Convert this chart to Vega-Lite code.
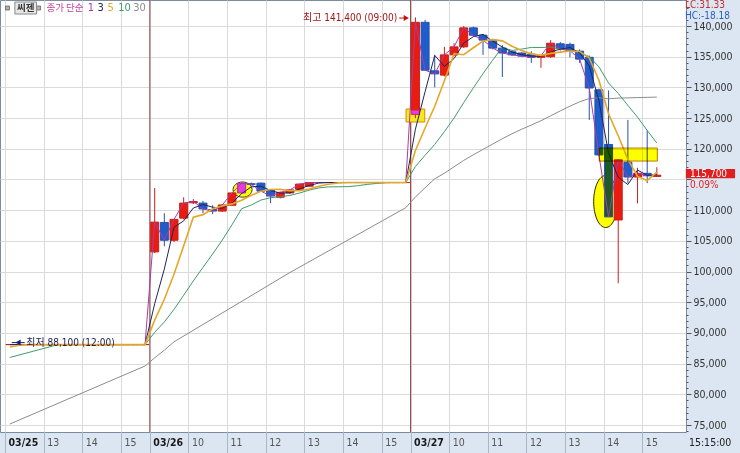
{
  "$schema": "https://vega.github.io/schema/vega-lite/v6.json",
  "width": 686,
  "height": 432,
  "autosize": {"type": "none"},
  "padding": {"left": 0, "top": 0, "right": 54, "bottom": 21},
  "background": "#dce6f2",
  "config": {
    "view": {"fill": "#ffffff", "stroke": "#7d8ba0", "strokeWidth": 1},
    "font": "Liberation Sans Narrow, DejaVu Sans Condensed, Noto Sans CJK KR, sans-serif"
  },
  "resolve": {"axis": {"x": "independent", "y": "independent"}},
  "datasets": {
    "candles": [
      {"s":-14.5,"o":88100,"h":88100,"l":88100,"c":88100,"t":"up"},
      {"s":-13.5,"o":88100,"h":88100,"l":88100,"c":88100,"t":"up"},
      {"s":-12.5,"o":88100,"h":88100,"l":88100,"c":88100,"t":"up"},
      {"s":-11.5,"o":88100,"h":88100,"l":88100,"c":88100,"t":"up"},
      {"s":-10.5,"o":88100,"h":88100,"l":88100,"c":88100,"t":"up"},
      {"s":-9.5,"o":88100,"h":88100,"l":88100,"c":88100,"t":"up"},
      {"s":-8.5,"o":88100,"h":88100,"l":88100,"c":88100,"t":"up"},
      {"s":-7.5,"o":88100,"h":88100,"l":88100,"c":88100,"t":"up"},
      {"s":-6.5,"o":88100,"h":88100,"l":88100,"c":88100,"t":"up"},
      {"s":-5.5,"o":88100,"h":88100,"l":88100,"c":88100,"t":"up"},
      {"s":-4.5,"o":88100,"h":88100,"l":88100,"c":88100,"t":"up"},
      {"s":-3.5,"o":88100,"h":88100,"l":88100,"c":88100,"t":"up"},
      {"s":-2.5,"o":88100,"h":88100,"l":88100,"c":88100,"t":"up"},
      {"s":-1.5,"o":88100,"h":88100,"l":88100,"c":88100,"t":"up"},
      {"s":-0.5,"o":88100,"h":88100,"l":88100,"c":88100,"t":"up"},
      {"s":0.5,"o":103200,"h":113600,"l":103000,"c":108050,"t":"up"},
      {"s":1.5,"o":108000,"h":109500,"l":104100,"c":105100,"t":"down"},
      {"s":2.5,"o":105100,"h":108500,"l":104800,"c":108500,"t":"up"},
      {"s":3.5,"o":108700,"h":112100,"l":108500,"c":111150,"t":"up"},
      {"s":4.5,"o":111200,"h":111800,"l":111000,"c":111400,"t":"up"},
      {"s":5.5,"o":111150,"h":111500,"l":109500,"c":110200,"t":"down"},
      {"s":6.5,"o":110100,"h":110800,"l":109350,"c":109850,"t":"down"},
      {"s":7.5,"o":109850,"h":110900,"l":109700,"c":110850,"t":"up"},
      {"s":8.5,"o":110800,"h":112800,"l":110700,"c":112800,"t":"up"},
      {"s":9.5,"o":112800,"h":114500,"l":112700,"c":114400,"t":"limit"},
      {"s":10.5,"o":114300,"h":114500,"l":114000,"c":114200,"t":"down"},
      {"s":11.5,"o":114400,"h":114500,"l":113000,"c":113100,"t":"down"},
      {"s":12.5,"o":113300,"h":113300,"l":111150,"c":112300,"t":"down"},
      {"s":13.5,"o":112100,"h":113000,"l":111900,"c":112900,"t":"up"},
      {"s":14.5,"o":112800,"h":113400,"l":112600,"c":113300,"t":"up"},
      {"s":15.5,"o":113400,"h":114300,"l":113200,"c":114250,"t":"up"},
      {"s":16.5,"o":113900,"h":114500,"l":113800,"c":114500,"t":"up"},
      {"s":17.5,"o":114500,"h":114500,"l":114500,"c":114500,"t":"up"},
      {"s":18.5,"o":114500,"h":114500,"l":114500,"c":114500,"t":"up"},
      {"s":19.5,"o":114500,"h":114500,"l":114500,"c":114500,"t":"up"},
      {"s":20.5,"o":114500,"h":114500,"l":114500,"c":114500,"t":"up"},
      {"s":21.5,"o":114500,"h":114500,"l":114500,"c":114500,"t":"up"},
      {"s":22.5,"o":114500,"h":114500,"l":114500,"c":114500,"t":"up"},
      {"s":23.5,"o":114500,"h":114500,"l":114500,"c":114500,"t":"up"},
      {"s":24.5,"o":114500,"h":114500,"l":114500,"c":114500,"t":"up"},
      {"s":25.5,"o":114500,"h":114500,"l":114500,"c":114500,"t":"up"},
      {"s":26.5,"o":114500,"h":114500,"l":114500,"c":114500,"t":"up"},
      {"s":27.5,"o":125600,"h":141400,"l":125000,"c":140600,"t":"up"},
      {"s":28.5,"o":140600,"h":141000,"l":132800,"c":132800,"t":"down"},
      {"s":29.5,"o":132700,"h":135300,"l":130000,"c":132200,"t":"down"},
      {"s":30.5,"o":132000,"h":136600,"l":131800,"c":135300,"t":"up"},
      {"s":31.5,"o":135300,"h":137200,"l":135100,"c":136600,"t":"up"},
      {"s":32.5,"o":136600,"h":140000,"l":136400,"c":139700,"t":"up"},
      {"s":33.5,"o":139700,"h":139900,"l":138300,"c":138500,"t":"down"},
      {"s":34.5,"o":138500,"h":138700,"l":135300,"c":137700,"t":"down"},
      {"s":35.5,"o":137700,"h":137900,"l":136200,"c":136400,"t":"down"},
      {"s":36.5,"o":136400,"h":136900,"l":131700,"c":135600,"t":"down"},
      {"s":37.5,"o":135800,"h":135900,"l":135100,"c":135300,"t":"down"},
      {"s":38.5,"o":135600,"h":135700,"l":135000,"c":135100,"t":"down"},
      {"s":39.5,"o":135400,"h":135900,"l":134000,"c":134900,"t":"down"},
      {"s":40.5,"o":134900,"h":135300,"l":133200,"c":135200,"t":"up"},
      {"s":41.5,"o":135000,"h":137700,"l":134800,"c":137200,"t":"up"},
      {"s":42.5,"o":137100,"h":137400,"l":136000,"c":136300,"t":"down"},
      {"s":43.5,"o":137000,"h":137300,"l":134900,"c":136000,"t":"down"},
      {"s":44.5,"o":135900,"h":136200,"l":134000,"c":134600,"t":"down"},
      {"s":45.5,"o":134900,"h":135200,"l":124700,"c":129900,"t":"down"},
      {"s":46.5,"o":129600,"h":129800,"l":118800,"c":119000,"t":"down"},
      {"s":47.5,"o":120700,"h":129500,"l":108900,"c":108900,"t":"hl"},
      {"s":48.5,"o":108400,"h":118300,"l":98100,"c":118200,"t":"up"},
      {"s":49.5,"o":117800,"h":124700,"l":114400,"c":115400,"t":"down"},
      {"s":50.5,"o":115400,"h":116900,"l":111100,"c":116000,"t":"up"},
      {"s":51.5,"o":116000,"h":123000,"l":114400,"c":115600,"t":"down"},
      {"s":52.5,"o":115500,"h":117000,"l":115400,"c":115700,"t":"up"}
    ],
    "ma3": [
      {"s":-14.5,"v":88100},{"s":-0.5,"v":88100},
      {"s":0.5,"v":94750},{"s":1.5,"v":100417},{"s":2.5,"v":107217},{"s":3.5,"v":108250},{"s":4.5,"v":110350},{"s":5.5,"v":110917},{"s":6.5,"v":110483},{"s":7.5,"v":110300},{"s":8.5,"v":111167},{"s":9.5,"v":112683},{"s":10.5,"v":113800},{"s":11.5,"v":113900},{"s":12.5,"v":113200},{"s":13.5,"v":112767},{"s":14.5,"v":112833},{"s":15.5,"v":113483},{"s":16.5,"v":114017},{"s":17.5,"v":114417},{"s":18.5,"v":114500},{"s":26.5,"v":114500},
      {"s":27.5,"v":123200},{"s":28.5,"v":129300},{"s":29.5,"v":135200},{"s":30.5,"v":133433},{"s":31.5,"v":134700},{"s":32.5,"v":137200},{"s":33.5,"v":138267},{"s":34.5,"v":138633},{"s":35.5,"v":137533},{"s":36.5,"v":136567},{"s":37.5,"v":135767},{"s":38.5,"v":135333},{"s":39.5,"v":135100},{"s":40.5,"v":135067},{"s":41.5,"v":135767},{"s":42.5,"v":136233},{"s":43.5,"v":136500},{"s":44.5,"v":135633},{"s":45.5,"v":133500},{"s":46.5,"v":127833},{"s":47.5,"v":119267},{"s":48.5,"v":115367},{"s":49.5,"v":114167},{"s":50.5,"v":116533},{"s":51.5,"v":115667},{"s":52.5,"v":115767}
    ],
    "ma5": [
      {"s":-14.5,"v":87700},{"s":-13.5,"v":88000},{"s":-12.5,"v":88100},{"s":-0.5,"v":88100},
      {"s":0.5,"v":92090},{"s":1.5,"v":95490},{"s":2.5,"v":99570},{"s":3.5,"v":104180},{"s":4.5,"v":108840},{"s":5.5,"v":109270},{"s":6.5,"v":110220},{"s":7.5,"v":110690},{"s":8.5,"v":111020},{"s":9.5,"v":111620},{"s":10.5,"v":112420},{"s":11.5,"v":113070},{"s":12.5,"v":113360},{"s":13.5,"v":113380},{"s":14.5,"v":113160},{"s":15.5,"v":113170},{"s":16.5,"v":113450},{"s":17.5,"v":113890},{"s":18.5,"v":114210},{"s":19.5,"v":114450},{"s":20.5,"v":114500},{"s":26.5,"v":114500},
      {"s":27.5,"v":119720},{"s":28.5,"v":123380},{"s":29.5,"v":126920},{"s":30.5,"v":131080},{"s":31.5,"v":135500},{"s":32.5,"v":135320},{"s":33.5,"v":136460},{"s":34.5,"v":137560},{"s":35.5,"v":137780},{"s":36.5,"v":137580},{"s":37.5,"v":136700},{"s":38.5,"v":136020},{"s":39.5,"v":135460},{"s":40.5,"v":135220},{"s":41.5,"v":135540},{"s":42.5,"v":135740},{"s":43.5,"v":135920},{"s":44.5,"v":135860},{"s":45.5,"v":134800},{"s":46.5,"v":131160},{"s":47.5,"v":125680},{"s":48.5,"v":122120},{"s":49.5,"v":118280},{"s":50.5,"v":115500},{"s":51.5,"v":114820},{"s":52.5,"v":116180}
    ],
    "ma10": [
      {"s":-14.5,"v":86000},{"s":-9.5,"v":88100},{"s":-0.5,"v":88100},
      {"s":0.5,"v":90095},{"s":1.5,"v":91795},{"s":2.5,"v":93835},{"s":3.5,"v":96140},{"s":4.5,"v":98470},{"s":5.5,"v":100680},{"s":6.5,"v":102855},{"s":7.5,"v":105130},{"s":8.5,"v":107600},{"s":9.5,"v":110230},{"s":10.5,"v":110845},{"s":11.5,"v":111645},{"s":12.5,"v":112025},{"s":13.5,"v":112200},{"s":14.5,"v":112390},{"s":15.5,"v":112795},{"s":16.5,"v":113260},{"s":17.5,"v":113625},{"s":18.5,"v":113795},{"s":19.5,"v":113805},{"s":20.5,"v":113835},{"s":21.5,"v":113975},{"s":22.5,"v":114195},{"s":23.5,"v":114355},{"s":24.5,"v":114475},{"s":25.5,"v":114500},{"s":26.5,"v":114500},
      {"s":27.5,"v":117110},{"s":28.5,"v":118940},{"s":29.5,"v":120710},{"s":30.5,"v":122790},{"s":31.5,"v":125000},{"s":32.5,"v":127520},{"s":33.5,"v":129920},{"s":34.5,"v":132240},{"s":35.5,"v":134430},{"s":36.5,"v":136540},{"s":37.5,"v":136010},{"s":38.5,"v":136240},{"s":39.5,"v":136510},{"s":40.5,"v":136500},{"s":41.5,"v":136560},{"s":42.5,"v":136220},{"s":43.5,"v":135970},{"s":44.5,"v":135660},{"s":45.5,"v":135010},{"s":46.5,"v":133350},{"s":47.5,"v":130710},{"s":48.5,"v":129020},{"s":49.5,"v":127070},{"s":50.5,"v":125150},{"s":51.5,"v":122990},{"s":52.5,"v":120930}
    ],
    "ma30": [
      {"s":-14.5,"v":75160},{"s":-0.5,"v":84610},{"s":0.5,"v":85950},{"s":1.5,"v":87190},{"s":2.5,"v":88550},{"s":14.5,"v":99840},{"s":26.5,"v":110400},
      {"s":27.5,"v":112150},{"s":28.5,"v":113640},{"s":29.5,"v":115110},{"s":30.5,"v":116018},{"s":31.5,"v":117068},{"s":32.5,"v":118108},{"s":33.5,"v":119020},{"s":34.5,"v":119897},{"s":35.5,"v":120770},{"s":36.5,"v":121628},{"s":37.5,"v":122443},{"s":38.5,"v":123186},{"s":39.5,"v":123869},{"s":40.5,"v":124569},{"s":41.5,"v":125372},{"s":42.5,"v":126172},{"s":43.5,"v":126942},{"s":44.5,"v":127652},{"s":45.5,"v":128174},{"s":46.5,"v":128324},{"s":47.5,"v":128137},{"s":48.5,"v":128260},{"s":49.5,"v":128290},{"s":50.5,"v":128340},{"s":51.5,"v":128377},{"s":52.5,"v":128417}
    ]
  },
  "layer": [
    {
      "data": {"name": "candles"},
      "mark": {"type": "rule", "opacity": 0},
      "encoding": {
        "x": {
          "field": "s", "type": "quantitative",
          "scale": {"domain": [-15, 55], "nice": false, "zero": false},
          "axis": {
            "title": null,
            "values": [-15, -11, -7, -3, 0, 4, 8, 12, 16, 20, 24, 27, 31, 35, 39, 43, 47, 51],
            "labelExpr": "datum.value==-15?'03/25':datum.value==0?'03/26':datum.value==27?'03/27':datum.value<0?(9+(datum.value+27)/4)+'':datum.value<27?(9+datum.value/4)+'':(9+(datum.value-27)/4)+''",
            "grid": true, "gridColor": "#dadada", "gridWidth": 1,
            "domain": false,
            "tickSize": 21, "tickColor": "#a9b6c8",
            "labelAlign": "left", "labelOffset": 3, "labelPadding": -16, "labelBaseline": "top",
            "labelFontSize": 10.5,
            "labelFontWeight": {"condition": {"test": "datum.value==-15||datum.value==0||datum.value==27", "value": "bold"}, "value": "normal"},
            "labelColor": {"condition": {"test": "datum.value==-15||datum.value==0||datum.value==27", "value": "#1a1a1a"}, "value": "#555555"},
            "labelFlush": false, "labelOverlap": false, "labelBound": false
          }
        },
        "y": {
          "field": "l", "type": "quantitative",
          "scale": {"domain": [73860, 144236], "nice": false, "zero": false},
          "axis": {
            "title": null, "orient": "right",
            "values": [74000,75000,76000,77000,78000,79000,80000,81000,82000,83000,84000,85000,86000,87000,88000,89000,90000,91000,92000,93000,94000,95000,96000,97000,98000,99000,100000,101000,102000,103000,104000,105000,106000,107000,108000,109000,110000,111000,112000,113000,114000,115000,116000,117000,118000,119000,120000,121000,122000,123000,124000,125000,126000,127000,128000,129000,130000,131000,132000,133000,134000,135000,136000,137000,138000,139000,140000,141000,142000,143000,144000],
            "labelExpr": "datum.value % 5000 == 0 && datum.value != 115000 ? format(datum.value, ',d') : ''",
            "grid": true, "gridColor": "#dadada",
            "gridOpacity": {"condition": {"test": "datum.value % 5000 == 0", "value": 1}, "value": 0},
            "tickSize": {"condition": {"test": "datum.value % 5000 == 0", "value": 5}, "value": 2},
            "domain": false,
            "tickColor": "#555555",
            "labelPadding": 2, "labelFontSize": 10.5, "labelColor": "#333333",
            "labelBaseline": "middle", "labelOverlap": false, "labelBound": false
          }
        },
        "y2": {"field": "h"}
      }
    },
    {
      "data": {"values": [{"s": 0}, {"s": 27}]},
      "mark": {"type": "rule", "color": "#8e3b3b", "strokeWidth": 1},
      "encoding": {"x": {"field": "s", "type": "quantitative", "scale": {"domain": [-15, 55], "nice": false, "zero": false}, "axis": null}}
    },
    {
      "data": {"values": [{"s": 9.6, "p": 113350}]},
      "mark": {"type": "point", "shape": "M-1,0A1,0.8,0,1,0,1,0A1,0.8,0,1,0,-1,0Z", "size": 361, "filled": true, "fill": "#ffff00", "stroke": "#3c3c14", "strokeWidth": 1, "opacity": 1},
      "encoding": {
        "x": {"field": "s", "type": "quantitative", "scale": {"domain": [-15, 55], "nice": false, "zero": false}, "axis": null},
        "y": {"field": "p", "type": "quantitative", "scale": {"domain": [73860, 144236], "nice": false, "zero": false}, "axis": null}
      }
    },
    {
      "data": {"values": [{"s": 47.2, "p": 111410}]},
      "mark": {"type": "point", "shape": "M-1,0A1,2.17,0,1,0,1,0A1,2.17,0,1,0,-1,0Z", "size": 576, "filled": true, "fill": "#ffff00", "stroke": "#2a2a00", "strokeWidth": 1, "opacity": 1},
      "encoding": {
        "x": {"field": "s", "type": "quantitative", "scale": {"domain": [-15, 55], "nice": false, "zero": false}, "axis": null},
        "y": {"field": "p", "type": "quantitative", "scale": {"domain": [73860, 144236], "nice": false, "zero": false}, "axis": null}
      }
    },
    {
      "data": {"values": [{"s1": 26.53, "s2": 28.47, "p1": 124360, "p2": 126480}]},
      "mark": {"type": "rect", "fill": "#f8e81c", "stroke": "#d08a10", "strokeWidth": 1},
      "encoding": {
        "x": {"field": "s1", "type": "quantitative", "scale": {"domain": [-15, 55], "nice": false, "zero": false}, "axis": null},
        "x2": {"field": "s2"},
        "y": {"field": "p1", "type": "quantitative", "scale": {"domain": [73860, 144236], "nice": false, "zero": false}, "axis": null},
        "y2": {"field": "p2"}
      }
    },
    {
      "data": {"name": "candles"},
      "mark": {"type": "rule", "strokeWidth": 1},
      "encoding": {
        "x": {"field": "s", "type": "quantitative", "scale": {"domain": [-15, 55], "nice": false, "zero": false}, "axis": null},
        "y": {"field": "l", "type": "quantitative", "scale": {"domain": [73860, 144236], "nice": false, "zero": false}, "axis": null},
        "y2": {"field": "h"},
        "stroke": {"field": "t", "type": "nominal", "scale": {"domain": ["up", "down", "limit", "hl"], "range": ["#c8201a", "#2a50a8", "#b030b0", "#2a50a8"]}, "legend": null}
      }
    },
    {
      "data": {"name": "candles"},
      "mark": {"type": "bar", "size": 8, "strokeWidth": 1},
      "encoding": {
        "x": {"field": "s", "type": "quantitative", "scale": {"domain": [-15, 55], "nice": false, "zero": false}, "axis": null},
        "y": {"field": "o", "type": "quantitative", "scale": {"domain": [73860, 144236], "nice": false, "zero": false}, "axis": null},
        "y2": {"field": "c"},
        "fill": {"field": "t", "type": "nominal", "scale": {"domain": ["up", "down", "limit", "hl"], "range": ["#ea1c10", "#1f5ccc", "#e23ce2", "#1d5a26"]}, "legend": null},
        "stroke": {"field": "t", "type": "nominal", "legend": null}
      }
    },
    {
      "data": {"values": [{"s": 47.5, "p1": 120000, "p2": 120700}]},
      "mark": {"type": "bar", "size": 8, "color": "#1f5ccc"},
      "encoding": {
        "x": {"field": "s", "type": "quantitative", "scale": {"domain": [-15, 55], "nice": false, "zero": false}, "axis": null},
        "y": {"field": "p1", "type": "quantitative", "scale": {"domain": [73860, 144236], "nice": false, "zero": false}, "axis": null},
        "y2": {"field": "p2"}
      }
    },
    {
      "data": {"values": [{"s": 27.5, "p1": 125600, "p2": 126250}]},
      "mark": {"type": "bar", "size": 8, "color": "#e23ce2"},
      "encoding": {
        "x": {"field": "s", "type": "quantitative", "scale": {"domain": [-15, 55], "nice": false, "zero": false}, "axis": null},
        "y": {"field": "p1", "type": "quantitative", "scale": {"domain": [73860, 144236], "nice": false, "zero": false}, "axis": null},
        "y2": {"field": "p2"}
      }
    },
    {
      "data": {"name": "ma30"},
      "mark": {"type": "line", "strokeWidth": 1},
      "encoding": {
        "x": {"field": "s", "type": "quantitative", "scale": {"domain": [-15, 55], "nice": false, "zero": false}, "axis": null},
        "y": {"field": "v", "type": "quantitative", "scale": {"domain": [73860, 144236], "nice": false, "zero": false}, "axis": null},
        "color": {"datum": "MA30", "scale": {"domain": ["MA1", "MA3", "MA5", "MA10", "MA30"], "range": ["#a83ca8", "#23235c", "#e3a82a", "#3f9a6e", "#8c8c8c"]}, "legend": null}
      }
    },
    {
      "data": {"name": "ma10"},
      "mark": {"type": "line", "strokeWidth": 1},
      "encoding": {
        "x": {"field": "s", "type": "quantitative", "scale": {"domain": [-15, 55], "nice": false, "zero": false}, "axis": null},
        "y": {"field": "v", "type": "quantitative", "scale": {"domain": [73860, 144236], "nice": false, "zero": false}, "axis": null},
        "color": {"datum": "MA10", "legend": null}
      }
    },
    {
      "data": {"name": "candles"},
      "mark": {"type": "line", "strokeWidth": 1},
      "encoding": {
        "x": {"field": "s", "type": "quantitative", "scale": {"domain": [-15, 55], "nice": false, "zero": false}, "axis": null},
        "y": {"field": "c", "type": "quantitative", "scale": {"domain": [73860, 144236], "nice": false, "zero": false}, "axis": null},
        "color": {"datum": "MA1", "legend": null}
      }
    },
    {
      "data": {"name": "ma3"},
      "mark": {"type": "line", "strokeWidth": 1},
      "encoding": {
        "x": {"field": "s", "type": "quantitative", "scale": {"domain": [-15, 55], "nice": false, "zero": false}, "axis": null},
        "y": {"field": "v", "type": "quantitative", "scale": {"domain": [73860, 144236], "nice": false, "zero": false}, "axis": null},
        "color": {"datum": "MA3", "legend": null}
      }
    },
    {
      "data": {"name": "ma5"},
      "mark": {"type": "line", "strokeWidth": 1.6},
      "encoding": {
        "x": {"field": "s", "type": "quantitative", "scale": {"domain": [-15, 55], "nice": false, "zero": false}, "axis": null},
        "y": {"field": "v", "type": "quantitative", "scale": {"domain": [73860, 144236], "nice": false, "zero": false}, "axis": null},
        "color": {"datum": "MA5", "legend": null}
      }
    },
    {
      "data": {"values": [{"s1": 46.53, "s2": 52.55, "p1": 118000, "p2": 120120}]},
      "mark": {"type": "rect", "fill": "#ffff00", "stroke": "#c07800", "strokeWidth": 1, "blend": "multiply"},
      "encoding": {
        "x": {"field": "s1", "type": "quantitative", "scale": {"domain": [-15, 55], "nice": false, "zero": false}, "axis": null},
        "x2": {"field": "s2"},
        "y": {"field": "p1", "type": "quantitative", "scale": {"domain": [73860, 144236], "nice": false, "zero": false}, "axis": null},
        "y2": {"field": "p2"}
      }
    },
    {
      "data": {"values": [{"s1": 25.82, "s2": 26.6, "p": 141300}]},
      "mark": {"type": "rule", "color": "#c01010", "strokeWidth": 1},
      "encoding": {
        "x": {"field": "s1", "type": "quantitative", "scale": {"domain": [-15, 55], "nice": false, "zero": false}, "axis": null},
        "x2": {"field": "s2"},
        "y": {"field": "p", "type": "quantitative", "scale": {"domain": [73860, 144236], "nice": false, "zero": false}, "axis": null}
      }
    },
    {
      "data": {"values": [{"s": 26.55, "p": 141300}]},
      "mark": {"type": "point", "shape": "triangle-right", "size": 36, "filled": true, "color": "#c01010", "opacity": 1},
      "encoding": {
        "x": {"field": "s", "type": "quantitative", "scale": {"domain": [-15, 55], "nice": false, "zero": false}, "axis": null},
        "y": {"field": "p", "type": "quantitative", "scale": {"domain": [73860, 144236], "nice": false, "zero": false}, "axis": null}
      }
    },
    {
      "data": {"values": [{"s": 25.61, "p": 141300, "txt": "최고 141,400 (09:00)"}]},
      "mark": {"type": "text", "align": "right", "baseline": "middle", "fontSize": 10, "color": "#a01818"},
      "encoding": {
        "x": {"field": "s", "type": "quantitative", "scale": {"domain": [-15, 55], "nice": false, "zero": false}, "axis": null},
        "y": {"field": "p", "type": "quantitative", "scale": {"domain": [73860, 144236], "nice": false, "zero": false}, "axis": null},
        "text": {"field": "txt"}
      }
    },
    {
      "data": {"values": [{"s1": -14.3, "s2": -12.96, "p": 88420}]},
      "mark": {"type": "rule", "color": "#1c1c80", "strokeWidth": 1},
      "encoding": {
        "x": {"field": "s1", "type": "quantitative", "scale": {"domain": [-15, 55], "nice": false, "zero": false}, "axis": null},
        "x2": {"field": "s2"},
        "y": {"field": "p", "type": "quantitative", "scale": {"domain": [73860, 144236], "nice": false, "zero": false}, "axis": null}
      }
    },
    {
      "data": {"values": [{"s": -13.65, "p": 88420}]},
      "mark": {"type": "point", "shape": "triangle-left", "size": 36, "filled": true, "color": "#1c1c80", "opacity": 1},
      "encoding": {
        "x": {"field": "s", "type": "quantitative", "scale": {"domain": [-15, 55], "nice": false, "zero": false}, "axis": null},
        "y": {"field": "p", "type": "quantitative", "scale": {"domain": [73860, 144236], "nice": false, "zero": false}, "axis": null}
      }
    },
    {
      "data": {"values": [{"s": -12.8, "p": 88420, "txt": "최저 88,100 (12:00)"}]},
      "mark": {"type": "text", "align": "left", "baseline": "middle", "fontSize": 10, "color": "#1c1c50"},
      "encoding": {
        "x": {"field": "s", "type": "quantitative", "scale": {"domain": [-15, 55], "nice": false, "zero": false}, "axis": null},
        "y": {"field": "p", "type": "quantitative", "scale": {"domain": [73860, 144236], "nice": false, "zero": false}, "axis": null},
        "text": {"field": "txt"}
      }
    },
    {
      "data": {"values": [{"s": -14.74, "p": 142930}, {"s": -11.53, "p": 142930}]},
      "mark": {"type": "point", "shape": "square", "size": 16, "filled": true, "fill": "#b0b0b0", "stroke": "#666666", "strokeWidth": 0.8, "opacity": 1},
      "encoding": {
        "x": {"field": "s", "type": "quantitative", "scale": {"domain": [-15, 55], "nice": false, "zero": false}, "axis": null},
        "y": {"field": "p", "type": "quantitative", "scale": {"domain": [73860, 144236], "nice": false, "zero": false}, "axis": null}
      }
    },
    {
      "data": {"values": [{"s1": -13.98, "s2": -11.73, "p1": 141955, "p2": 143910}]},
      "mark": {"type": "rect", "fill": "#e6e6e6", "stroke": "#8a8a8a", "strokeWidth": 1},
      "encoding": {
        "x": {"field": "s1", "type": "quantitative", "scale": {"domain": [-15, 55], "nice": false, "zero": false}, "axis": null},
        "x2": {"field": "s2"},
        "y": {"field": "p1", "type": "quantitative", "scale": {"domain": [73860, 144236], "nice": false, "zero": false}, "axis": null},
        "y2": {"field": "p2"}
      }
    },
    {
      "data": {"values": [{"s": -12.86, "p": 142930, "txt": "씨젠"}]},
      "mark": {"type": "text", "align": "center", "baseline": "middle", "fontSize": 9.5, "fontWeight": "bold", "color": "#333333", "font": "Noto Sans CJK KR"},
      "encoding": {
        "x": {"field": "s", "type": "quantitative", "scale": {"domain": [-15, 55], "nice": false, "zero": false}, "axis": null},
        "y": {"field": "p", "type": "quantitative", "scale": {"domain": [73860, 144236], "nice": false, "zero": false}, "axis": null},
        "text": {"field": "txt"}
      }
    },
    {
      "data": {"values": [{"s": -10.71, "p": 142930, "txt": "종가 단순"}]},
      "mark": {"type": "text", "align": "left", "baseline": "middle", "fontSize": 9.5, "color": "#c23c9a", "font": "Noto Sans CJK KR"},
      "encoding": {
        "x": {"field": "s", "type": "quantitative", "scale": {"domain": [-15, 55], "nice": false, "zero": false}, "axis": null},
        "y": {"field": "p", "type": "quantitative", "scale": {"domain": [73860, 144236], "nice": false, "zero": false}, "axis": null},
        "text": {"field": "txt"}
      }
    },
    {
      "data": {"values": [
        {"m": "MA1", "txt": "1", "s": -6.43, "p": 142930},
        {"m": "MA3", "txt": "3", "s": -5.41, "p": 142930},
        {"m": "MA5", "txt": "5", "s": -4.39, "p": 142930},
        {"m": "MA10", "txt": "10", "s": -3.27, "p": 142930},
        {"m": "MA30", "txt": "30", "s": -1.73, "p": 142930}
      ]},
      "mark": {"type": "text", "align": "left", "baseline": "middle", "fontSize": 11},
      "encoding": {
        "x": {"field": "s", "type": "quantitative", "scale": {"domain": [-15, 55], "nice": false, "zero": false}, "axis": null},
        "y": {"field": "p", "type": "quantitative", "scale": {"domain": [73860, 144236], "nice": false, "zero": false}, "axis": null},
        "text": {"field": "txt"},
        "color": {"field": "m", "type": "nominal", "legend": null}
      }
    },
    {
      "data": {"values": [{"s1": 55.5, "s2": 60.6, "p1": 115200, "p2": 116700}]},
      "mark": {"type": "rect", "fill": "#e02020"},
      "encoding": {
        "x": {"field": "s1", "type": "quantitative", "scale": {"domain": [-15, 55], "nice": false, "zero": false}, "axis": null},
        "x2": {"field": "s2"},
        "y": {"field": "p1", "type": "quantitative", "scale": {"domain": [73860, 144236], "nice": false, "zero": false}, "axis": null},
        "y2": {"field": "p2"}
      }
    },
    {
      "data": {"values": [{"s": 55.92, "p": 115950, "txt": "115,700"}]},
      "mark": {"type": "text", "align": "left", "baseline": "middle", "fontSize": 10, "color": "#ffffff"},
      "encoding": {
        "x": {"field": "s", "type": "quantitative", "scale": {"domain": [-15, 55], "nice": false, "zero": false}, "axis": null},
        "y": {"field": "p", "type": "quantitative", "scale": {"domain": [73860, 144236], "nice": false, "zero": false}, "axis": null},
        "text": {"field": "txt"}
      }
    },
    {
      "data": {"values": [{"s": 55.92, "p": 114100, "txt": "0.09%"}]},
      "mark": {"type": "text", "align": "left", "baseline": "middle", "fontSize": 10, "color": "#e02020"},
      "encoding": {
        "x": {"field": "s", "type": "quantitative", "scale": {"domain": [-15, 55], "nice": false, "zero": false}, "axis": null},
        "y": {"field": "p", "type": "quantitative", "scale": {"domain": [73860, 144236], "nice": false, "zero": false}, "axis": null},
        "text": {"field": "txt"}
      }
    },
    {
      "data": {"values": [{"s": 55.41, "p": 143420, "txt": "LC:31.33"}]},
      "mark": {"type": "text", "align": "left", "baseline": "middle", "fontSize": 10, "color": "#c03030"},
      "encoding": {
        "x": {"field": "s", "type": "quantitative", "scale": {"domain": [-15, 55], "nice": false, "zero": false}, "axis": null},
        "y": {"field": "p", "type": "quantitative", "scale": {"domain": [73860, 144236], "nice": false, "zero": false}, "axis": null},
        "text": {"field": "txt"}
      }
    },
    {
      "data": {"values": [{"s": 55.41, "p": 141700, "txt": "HC:-18.18"}]},
      "mark": {"type": "text", "align": "left", "baseline": "middle", "fontSize": 10, "color": "#2d5fc0"},
      "encoding": {
        "x": {"field": "s", "type": "quantitative", "scale": {"domain": [-15, 55], "nice": false, "zero": false}, "axis": null},
        "y": {"field": "p", "type": "quantitative", "scale": {"domain": [73860, 144236], "nice": false, "zero": false}, "axis": null},
        "text": {"field": "txt"}
      }
    },
    {
      "data": {"values": [{"s": 55.82, "p": 72060, "txt": "15:15:00"}]},
      "mark": {"type": "text", "align": "left", "baseline": "middle", "fontSize": 10.5, "color": "#222222"},
      "encoding": {
        "x": {"field": "s", "type": "quantitative", "scale": {"domain": [-15, 55], "nice": false, "zero": false}, "axis": null},
        "y": {"field": "p", "type": "quantitative", "scale": {"domain": [73860, 144236], "nice": false, "zero": false}, "axis": null},
        "text": {"field": "txt"}
      }
    }
  ]
}
